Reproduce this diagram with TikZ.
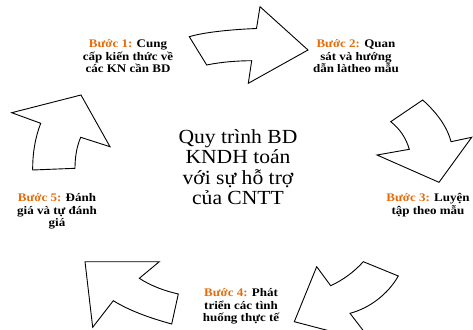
\documentclass[tikz,border=0pt]{standalone}
\usepackage{fontspec}
\usepackage{graphicx}
\setmainfont{Liberation Serif}
\definecolor{steporange}{RGB}{228,108,10}
\newcommand{\stepstack}[2]{\scalebox{#1}[1]{\begin{tabular}{@{}c@{}}#2\end{tabular}}}
\newcommand{\stepname}[1]{\textcolor{steporange}{#1}}
\begin{document}
\begin{tikzpicture}[x=1pt,y=-1pt,
  arrowshape/.style={draw=black,line width=0.9pt,line join=miter,fill=white},
  steplabel/.style={inner sep=0pt,font=\bfseries\fontsize{11.6}{12.8}\selectfont},
  centerlabel/.style={inner sep=0pt,font=\fontsize{20}{19.6}\selectfont}]
\useasboundingbox (0,0) rectangle (473,329);
\clip (0,0) rectangle (473,329);
% arrow 1 (top)
\draw[arrowshape] (189.3,36.7) .. controls (205,32) and (232,29.5) .. (256.5,28.5)
  -- (260,6.7) -- (308,50) -- (248.3,83.3) -- (251.7,60.7)
  .. controls (238,60.8) and (222,61.8) .. (206.7,65) -- cycle;
% arrow 2 (right)
\draw[arrowshape] (422.7,100) .. controls (436,112) and (447,126) .. (451,141.7)
  -- (471.7,137.3) -- (439,182.3) -- (377,155) -- (409.3,149.3)
  .. controls (406,138) and (400,129) .. (390.7,121.7) -- cycle;
% arrow 3 (bottom right)
\draw[arrowshape] (363.3,261.7) -- (398.3,276)
  .. controls (388,294) and (370,308) .. (350,313.3)
  -- (372,342) -- (294.3,321.7) -- (316.7,266.7) -- (330.7,285.7)
  .. controls (343,280) and (354,272) .. cycle;
% arrow 4 (bottom left)
\draw[arrowshape] (85,261.7) -- (159.3,261.7) -- (139.3,278.3)
  .. controls (151,286) and (165,291) .. (178.3,294)
  -- (171.7,324) .. controls (150,318) and (130,311) .. (113.3,300.7)
  -- (92.7,327.3) -- cycle;
% arrow 5 (left)
\draw[arrowshape] (11.7,112.7) -- (81,95) -- (110,146.7) -- (80.7,137.3)
  .. controls (76.5,147) and (75,158) .. (75,168.3)
  -- (32.7,170) .. controls (32.5,154) and (35,138) .. (40.7,123.3) -- cycle;
% labels
\node[centerlabel] (center) at (238,170) {\stepstack{1.08}{Quy trình BD\\KNDH toán\\với sự hỗ trợ\\của CNTT}};
\node[steplabel] (s1) at (128,57.5) {\stepstack{1.12}{\stepname{Bước 1:} Cung\\cấp kiến thức về\\các KN cần BD}};
\node[steplabel] (s2) at (356,57.5) {\stepstack{1.12}{\stepname{Bước 2:} Quan\\sát và hướng\\dẫn làtheo mẫu}};
\node[steplabel] (s3) at (428,205.5) {\stepstack{1.12}{\stepname{Bước 3:} Luyện\\tập theo mẫu}};
\node[steplabel] (s4) at (241,306.5) {\stepstack{1.12}{\stepname{Bước 4:} Phát\\triển các tình\\huống thực tế}};
\node[steplabel] (s5) at (57,211.5) {\stepstack{1.12}{\stepname{Bước 5:} Đánh\\giá và tự đánh\\giá}};
\end{tikzpicture}
\end{document}
